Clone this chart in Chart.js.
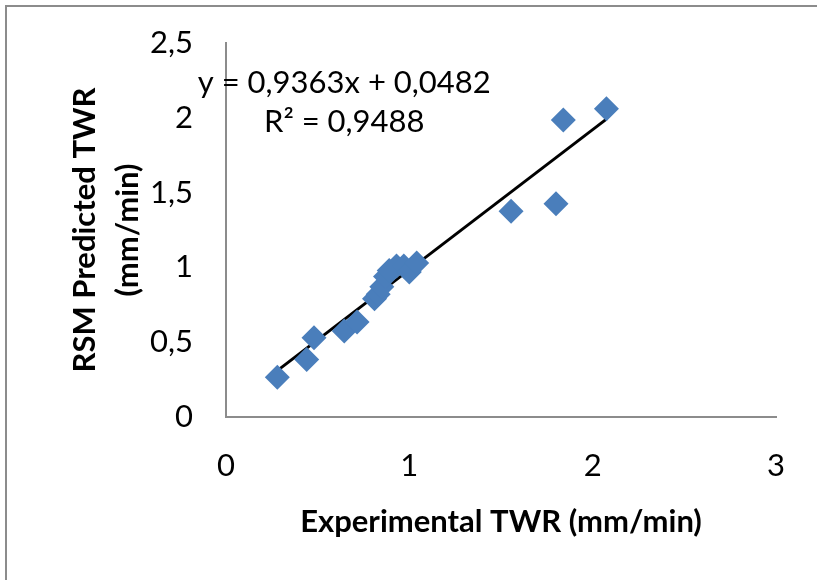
<!DOCTYPE html>
<html>
<head>
<meta charset="utf-8">
<script src="https://cdn.jsdelivr.net/npm/chart.js@4/dist/chart.umd.min.js"></script>
<style>
  html, body { margin: 0; padding: 0; background: #fff; overflow: hidden; }
  #frame { position: absolute; left: 5px; top: 5px; width: 900px; height: 700px; border: 2px solid #8c8c8c; }
  #myChart { position: absolute; left: 0; top: 0; }
</style>
</head>
<body>
<div id="frame"></div>
<canvas id="myChart" width="817" height="580"></canvas>
<script>
  // experimental vs predicted tool wear rate (mm/min)
  const experimental = [0.28, 0.44, 0.48, 0.645, 0.715, 0.81, 0.83, 0.85, 0.87, 0.89, 0.93, 0.97, 1.00, 1.04, 1.555, 1.80, 1.84, 2.075];
  const predicted    = [0.265, 0.385, 0.53, 0.575, 0.635, 0.79, 0.82, 0.87, 0.94, 0.98, 1.01, 1.01, 0.97, 1.03, 1.375, 1.425, 1.985, 2.06];
  const slope = 0.9363;
  const intercept = 0.0482;
  const eqLines = ['y = 0,9363x + 0,0482', 'R\u00b2 = 0,9488'];
  const xTicks = [0, 1, 2, 3];
  const yTicks = [0, 0.5, 1, 1.5, 2, 2.5];

  const points = experimental.map((x, i) => ({ x: x, y: predicted[i] }));
  const xMin = Math.min(...experimental);
  const xMax = Math.max(...experimental);
  const trend = [
    { x: xMin, y: slope * xMin + intercept },
    { x: xMax, y: slope * xMax + intercept }
  ];

  const fmt = v => String(v).replace('.', ',');

  // trendline label, placed in data units
  const eqLabel = {
    id: 'eqLabel',
    afterDraw(chart) {
      const { ctx, scales: { x, y } } = chart;
      const cx = x.getPixelForValue(0.645);
      const cy = y.getPixelForValue(2.105);
      ctx.save();
      ctx.font = '31px Lato';
      ctx.fillStyle = '#000';
      ctx.textAlign = 'center';
      ctx.textBaseline = 'middle';
      ctx.fillText(eqLines[0], cx, cy - 19.5);
      ctx.fillText(eqLines[1], cx, cy + 19.5);
      ctx.restore();
    }
  };

  const ctx = document.getElementById('myChart').getContext('2d');

  const myChart = new Chart(ctx, {
    type: 'scatter',
    data: {
      datasets: [{
        label: 'TWR',
        data: points,
        pointStyle: 'rectRot',
        pointRadius: 12.5,
        pointHoverRadius: 12.5,
        backgroundColor: '#4a7ebb',
        borderColor: '#4a7ebb',
        borderWidth: 0
      }, {
        label: 'Trend',
        type: 'line',
        data: trend,
        borderColor: '#000',
        borderWidth: 3,
        pointRadius: 0,
        fill: false
      }]
    },
    plugins: [eqLabel],
    options: {
      responsive: false,
      animation: false,
      layout: { padding: { top: 43, right: 41, bottom: 0, left: 20 } },
      plugins: { legend: { display: false }, tooltip: { enabled: false } },
      scales: {
        x: {
          type: 'linear',
          min: 0, max: 3,
          afterBuildTicks: s => { s.ticks = xTicks.map(v => ({ value: v })); },
          afterFit: s => { s.height = 163; s.paddingLeft = 0; s.paddingRight = 0; },
          grid: { display: false, drawTicks: false },
          border: { color: '#8c8c8c', width: 2 },
          ticks: { color: '#000', font: { family: 'Lato', size: 31 }, padding: 30, callback: fmt },
          title: {
            display: true,
            text: 'Experimental TWR (mm/min)',
            color: '#000',
            font: { family: 'Lato', size: 31, weight: 'bold' },
            padding: { top: 0, bottom: 39 }
          }
        },
        y: {
          type: 'linear',
          min: 0, max: 2.5,
          afterBuildTicks: s => { s.ticks = yTicks.map(v => ({ value: v })); },
          afterFit: s => { s.width = 206; s.paddingTop = 0; s.paddingBottom = 0; },
          grid: { display: false, drawTicks: false },
          border: { color: '#8c8c8c', width: 2 },
          ticks: { color: '#000', font: { family: 'Lato', size: 31 }, padding: 33, callback: fmt },
          title: {
            display: true,
            text: ['RSM Predicted TWR', '(mm/min)'],
            color: '#000',
            font: { family: 'Lato', size: 31, weight: 'bold', lineHeight: 1.4 },
            padding: { top: 43, bottom: 0 }
          }
        }
      }
    }
  });
</script>
</body>
</html>
